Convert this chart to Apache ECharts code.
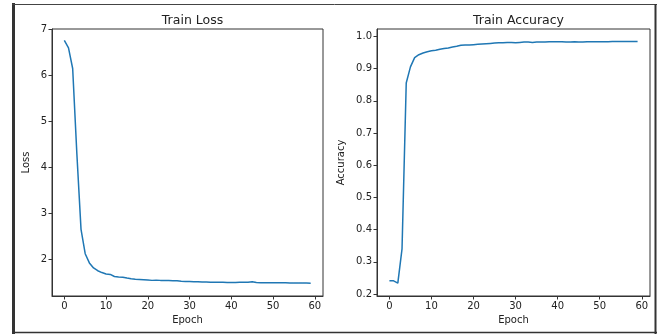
<!DOCTYPE html>
<html><head><meta charset="utf-8">
<script src="https://cdn.jsdelivr.net/npm/echarts@6/dist/echarts.min.js"></script>
<style>html,body{margin:0;padding:0;background:#fff}#c{width:659px;height:334px}</style>
</head><body><div id="c"></div>
<script>
const epochs = Array.from({length: 60}, (_, i) => i);
const lossValues = [6.76, 6.6, 6.15, 4.3, 2.65, 2.12, 1.92, 1.81, 1.75, 1.71,
  1.68, 1.67, 1.625, 1.615, 1.61, 1.59, 1.575, 1.565, 1.56, 1.555,
  1.55, 1.54, 1.545, 1.54, 1.54, 1.535, 1.53, 1.53, 1.52, 1.515,
  1.515, 1.51, 1.51, 1.505, 1.505, 1.5, 1.5, 1.5, 1.5, 1.495,
  1.495, 1.495, 1.5, 1.5, 1.5, 1.512, 1.495, 1.49, 1.49, 1.488,
  1.487, 1.487, 1.486, 1.486, 1.485, 1.484, 1.483, 1.482, 1.481, 1.48];
const accValues = [0.241, 0.241, 0.234, 0.34, 0.855, 0.905, 0.934, 0.943, 0.948, 0.952,
  0.955, 0.957, 0.96, 0.962, 0.964, 0.967, 0.969, 0.972, 0.973, 0.973,
  0.974, 0.975, 0.976, 0.977, 0.978, 0.979, 0.98, 0.98, 0.981, 0.981,
  0.98, 0.981, 0.982, 0.982, 0.981, 0.982, 0.982, 0.982, 0.983, 0.983,
  0.983, 0.983, 0.982, 0.982, 0.983, 0.982, 0.982, 0.983, 0.983, 0.983,
  0.983, 0.983, 0.983, 0.984, 0.984, 0.984, 0.984, 0.984, 0.984, 0.984];
const xTicks = [0, 10, 20, 30, 40, 50, 60];
const lossTicks = [2, 3, 4, 5, 6, 7];
const accTicks = [0.2, 0.3, 0.4, 0.5, 0.6, 0.7, 0.8, 0.9, 1.0];

const FONT = 'DejaVu Sans';
const axisColor = '#333';
function xAxis(gi) {
  return {
    type: 'value', gridIndex: gi, min: -2.95, max: 61.95,
    name: 'Epoch', nameLocation: 'middle', nameGap: 17,
    nameTextStyle: {fontFamily: FONT, fontSize: 10, color: '#222'},
    axisLine: {show: true, onZero: false, lineStyle: {color: axisColor, width: 1}},
    axisTick: {show: true, length: 3.5, lineStyle: {color: axisColor}, customValues: xTicks},
    axisLabel: {fontFamily: FONT, fontSize: 10, color: '#222', margin: 5, customValues: xTicks},
    splitLine: {show: false}
  };
}
function yAxis(gi, min, max, ticks, name, gap, fmt) {
  return {
    type: 'value', gridIndex: gi, min: min, max: max,
    name: name, nameLocation: 'middle', nameGap: gap,
    nameTextStyle: {fontFamily: FONT, fontSize: 10, color: '#222'},
    axisLine: {show: true, onZero: false, lineStyle: {color: axisColor, width: 1}},
    axisTick: {show: true, length: 3.5, lineStyle: {color: axisColor}, customValues: ticks},
    axisLabel: {fontFamily: FONT, fontSize: 10, color: '#222', margin: 5, customValues: ticks, formatter: fmt},
    splitLine: {show: false}
  };
}
const chart = echarts.init(document.getElementById('c'), null, {renderer: 'canvas'});
chart.setOption({
  animation: false,
  backgroundColor: '#fff',
  title: [
    {text: 'Train Loss', left: 187.5, top: 9, textAlign: 'center',
      textStyle: {fontFamily: FONT, fontSize: 12.5, fontWeight: 'normal', color: '#222'}},
    {text: 'Train Accuracy', left: 513.5, top: 9, textAlign: 'center',
      textStyle: {fontFamily: FONT, fontSize: 12.5, fontWeight: 'normal', color: '#222'}}
  ],
  grid: [
    {left: 52, top: 29, width: 271, height: 267, show: true, borderColor: axisColor, borderWidth: 1, backgroundColor: 'transparent'},
    {left: 377, top: 29, width: 273, height: 267, show: true, borderColor: axisColor, borderWidth: 1, backgroundColor: 'transparent'}
  ],
  xAxis: [xAxis(0), xAxis(1)],
  yAxis: [
    yAxis(0, 1.2, 7.01, lossTicks, 'Loss', 21, v => String(v)),
    yAxis(1, 0.194, 1.0227, accTicks, 'Accuracy', 31, v => v.toFixed(1))
  ],
  series: [
    {type: 'line', xAxisIndex: 0, yAxisIndex: 0, data: epochs.map((e, i) => [e, lossValues[i]]),
      showSymbol: false, lineStyle: {color: '#1f77b4', width: 1.5}, itemStyle: {color: '#1f77b4'}},
    {type: 'line', xAxisIndex: 1, yAxisIndex: 1, data: epochs.map((e, i) => [e, accValues[i]]),
      showSymbol: false, lineStyle: {color: '#1f77b4', width: 1.5}, itemStyle: {color: '#1f77b4'}}
  ],
  graphic: [
    {type: 'line', shape: {x1: 13.5, y1: 3, x2: 13.5, y2: 334}, style: {stroke: '#333', lineWidth: 3}},
    {type: 'line', shape: {x1: 12, y1: 4.5, x2: 657, y2: 4.5}, style: {stroke: '#444', lineWidth: 1}},
    {type: 'line', shape: {x1: 655.5, y1: 4, x2: 655.5, y2: 334}, style: {stroke: '#333', lineWidth: 2}},
    {type: 'line', shape: {x1: 12, y1: 332.5, x2: 657, y2: 332.5}, style: {stroke: '#333', lineWidth: 1.5}}
  ]
});
</script></body></html>
